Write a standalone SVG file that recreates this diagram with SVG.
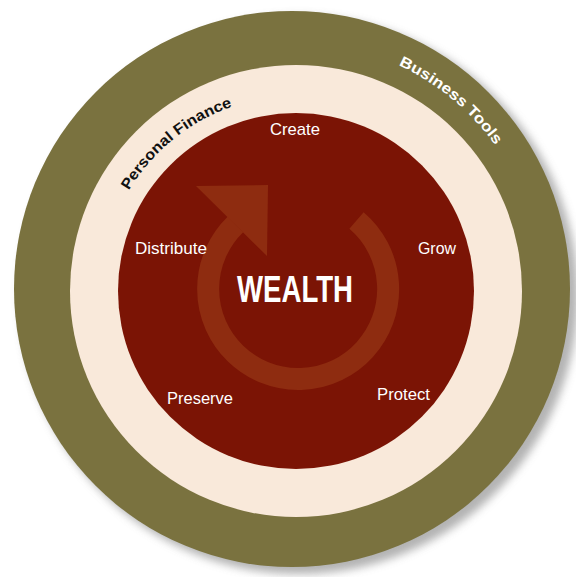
<svg xmlns="http://www.w3.org/2000/svg" xmlns:xlink="http://www.w3.org/1999/xlink" width="576" height="577" viewBox="0 0 576 577">
  <defs>
    <filter id="shadowBlur" x="-10%" y="-10%" width="120%" height="120%">
      <feGaussianBlur stdDeviation="4"/>
    </filter>
    <path id="pfArc" d="M 128.8 190.6 A 195 195 0 0 1 329.9 99.0"/>
    <path id="btArc" d="M 398.5 65.2 A 246 246 0 0 1 527.2 206.9"/>
    <style>
      .lbl { font-family: "Liberation Sans", Arial, sans-serif; font-size: 17px; fill: #ffffff; }
      .big { font-family: "Liberation Sans", Arial, sans-serif; font-size: 36px; font-weight: bold; fill: #ffffff; }
      .arcTxt { font-family: "Liberation Sans", Arial, sans-serif; font-size: 15px; font-weight: bold; }
    </style>
  </defs>
  <rect width="576" height="577" fill="#ffffff"/>

  <g id="business-tools-ring">
    <circle cx="299" cy="295" r="279" fill="#9a9a9a" opacity="0.75" filter="url(#shadowBlur)"/>
    <circle cx="292" cy="289" r="278" fill="#7a723f"/>
    <text class="arcTxt" fill="#ffffff"><textPath xlink:href="#btArc" href="#btArc" textLength="127" lengthAdjust="spacingAndGlyphs">Business Tools</textPath></text>
  </g>

  <g id="personal-finance-ring">
    <circle cx="296" cy="291" r="226" fill="#f9e9da"/>
    <text class="arcTxt" fill="#111111"><textPath xlink:href="#pfArc" href="#pfArc" textLength="136" lengthAdjust="spacingAndGlyphs">Personal Finance</textPath></text>
  </g>

  <g id="wealth-core">
    <circle cx="296" cy="291" r="178" fill="#7b1405"/>
  </g>

  <g id="cycle-arrow" fill="#8e2c10" stroke="none">
    <path d="M 356.5 220.5 A 90 90 0 1 1 235.5 224.4" fill="none" stroke="#8e2c10" stroke-width="22"/>
    <polygon points="268,185 196,186 267,256"/>
  </g>

  <g id="wealth">
    <text class="big" x="237" y="302" textLength="116" lengthAdjust="spacingAndGlyphs">WEALTH</text>
  </g>
  <g id="create">
    <text class="lbl" x="270" y="135" textLength="50" lengthAdjust="spacingAndGlyphs">Create</text>
  </g>
  <g id="grow">
    <text class="lbl" x="418" y="254" textLength="38" lengthAdjust="spacingAndGlyphs">Grow</text>
  </g>
  <g id="protect">
    <text class="lbl" x="377" y="400" textLength="53" lengthAdjust="spacingAndGlyphs">Protect</text>
  </g>
  <g id="preserve">
    <text class="lbl" x="167" y="404" textLength="66" lengthAdjust="spacingAndGlyphs">Preserve</text>
  </g>
  <g id="distribute">
    <text class="lbl" x="135" y="254" textLength="72" lengthAdjust="spacingAndGlyphs">Distribute</text>
  </g>
  <g id="connectors"></g>
</svg>
